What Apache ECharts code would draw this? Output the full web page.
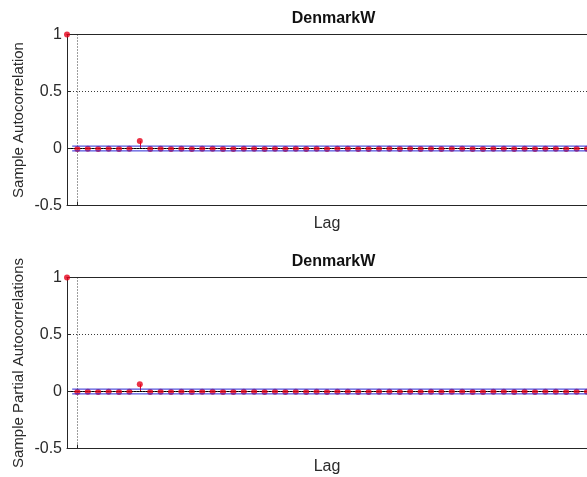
<!DOCTYPE html>
<html>
<head>
<meta charset="utf-8">
<title>DenmarkW</title>
<script src="https://cdn.jsdelivr.net/npm/echarts@6/dist/echarts.min.js"></script>
<style>
  html, body { margin: 0; padding: 0; background: #fff; }
  #chart { width: 587px; height: 477px; }
</style>
</head>
<body>
<div id="chart"></div>
<script>
// Lags shown on the horizontal axis
const lags = [0, 1, 2, 3, 4, 5, 6, 7, 8, 9, 10, 11, 12, 13, 14, 15, 16, 17, 18, 19, 20,
  21, 22, 23, 24, 25, 26, 27, 28, 29, 30, 31, 32, 33, 34, 35, 36, 37, 38, 39, 40,
  41, 42, 43, 44, 45, 46, 47, 48, 49, 50];

// Sample autocorrelation per lag
const acfValues = [1, -0.004, -0.003, -0.005, -0.002, -0.004, -0.003, 0.066, -0.004, -0.002,
  -0.005, -0.003, -0.004, -0.002, -0.003, -0.005, -0.004, -0.002, -0.003, -0.004,
  -0.003, -0.005, -0.002, -0.004, -0.003, -0.004, -0.002, -0.003, -0.005, -0.004,
  -0.003, -0.002, -0.004, -0.003, -0.005, -0.003, -0.004, -0.002, -0.003, -0.004,
  -0.005, -0.003, -0.002, -0.004, -0.003, -0.004, -0.002, -0.003, -0.004, -0.003, -0.002];

// Sample partial autocorrelation per lag
const pacfValues = [1, -0.004, -0.003, -0.005, -0.002, -0.004, -0.003, 0.064, -0.004, -0.003,
  -0.005, -0.003, -0.004, -0.002, -0.003, -0.004, -0.004, -0.002, -0.003, -0.004,
  -0.003, -0.005, -0.002, -0.004, -0.003, -0.004, -0.003, -0.003, -0.005, -0.004,
  -0.003, -0.002, -0.004, -0.003, -0.004, -0.003, -0.004, -0.002, -0.003, -0.004,
  -0.005, -0.003, -0.002, -0.004, -0.003, -0.004, -0.003, -0.003, -0.004, -0.003, -0.002];

// Approximate 95% confidence bounds, drawn from lag 0.5 to the last lag
const boundUpper = 0.021;
const boundLower = -0.021;
const boundLagStart = 0.5;
const boundLagEnd = 50;

// Axis ticks
const yTicks = [-0.5, 0, 0.5, 1];
const xGridLags = [1];

const titleText = 'DenmarkW';
const xName = 'Lag';
const yNames = ['Sample Autocorrelation', 'Sample Partial Autocorrelations'];

const FONT = 'Liberation Sans, Arial, sans-serif';
const RED = '#e6001a';
const BLUE = '#2a2ad6';
const AXIS = '#262626';
const DOTS = '#3a3a3a';
const TEXT = '#2a2a2a';

const chart = echarts.init(document.getElementById('chart'), null, { renderer: 'canvas' });

const gridTops = [34.5, 277.5];
const gridHeight = 171;

function pairs(values) {
  return lags.map((l, i) => [l, values[i]]);
}

// vertical stem from the zero baseline to the value, snapped to the pixel grid
function renderStem(params, api) {
  const top = api.coord([api.value(0), api.value(1)]);
  const base = api.coord([api.value(0), 0]);
  const x = Math.round(top[0]) + 0.5;
  return {
    type: 'line',
    shape: { x1: x, y1: base[1], x2: x, y2: top[1] },
    style: { stroke: RED, lineWidth: 1 }
  };
}

const grids = gridTops.map(t => ({ left: 67, right: -8, top: t, height: gridHeight, containLabel: false }));

const xAxes = [];
const yAxes = [];
const series = [];
const titles = [];

[acfValues, pacfValues].forEach((vals, g) => {
  titles.push({
    text: titleText,
    left: 328.5,
    top: gridTops[g] - 29,
    textAlign: 'center',
    textStyle: { fontFamily: FONT, fontSize: 16, fontWeight: 'bold', color: '#111' }
  });
  // bottom axis with the lag grid line
  xAxes.push({
    type: 'value', gridIndex: g, position: 'bottom', min: 0, max: lags[lags.length - 1],
    name: xName, nameLocation: 'middle', nameGap: 10,
    nameTextStyle: { fontFamily: FONT, fontSize: 16, color: TEXT, verticalAlign: 'top' },
    z: 8,
    axisLine: { show: true, onZero: false, lineStyle: { color: AXIS, width: 1 } },
    axisTick: { show: true, inside: true, length: 4, customValues: xGridLags, lineStyle: { color: AXIS } },
    axisLabel: { show: false, customValues: xGridLags },
    splitLine: { show: true, lineStyle: { color: DOTS, width: 1, type: [1, 2] } }
  });
  // top border
  xAxes.push({
    type: 'value', gridIndex: g, position: 'top', min: 0, max: lags[lags.length - 1],
    z: 8,
    axisLine: { show: true, onZero: false, lineStyle: { color: AXIS, width: 1 } },
    axisTick: { show: false }, axisLabel: { show: false }, splitLine: { show: false }
  });
  yAxes.push({
    type: 'value', gridIndex: g, min: yTicks[0], max: yTicks[yTicks.length - 1], interval: 0.5,
    name: yNames[g], nameLocation: 'middle', nameGap: 41, nameMoveOverlap: false,
    nameTextStyle: { fontFamily: FONT, fontSize: 15, color: TEXT },
    z: 8,
    axisLine: { show: true, onZero: false, lineStyle: { color: AXIS, width: 1 } },
    axisTick: { show: true, inside: true, length: 4, lineStyle: { color: AXIS } },
    axisLabel: { fontFamily: FONT, fontSize: 16, color: TEXT, margin: 5 },
    splitLine: { show: true, lineStyle: { color: DOTS, width: 1, type: [1, 2] } }
  });

  const xi = g * 2;
  // stems
  series.push({
    type: 'custom', xAxisIndex: xi, yAxisIndex: g, data: pairs(vals),
    renderItem: renderStem, z: 1, silent: true,
    encode: { x: 0, y: 1 },
    markLine: {
      silent: true, symbol: 'none', label: { show: false },
      lineStyle: { color: '#000', type: 'solid', width: 1 },
      data: [{ yAxis: 0 }]
    }
  });
  // markers
  series.push({
    type: 'scatter', xAxisIndex: xi, yAxisIndex: g, data: pairs(vals),
    symbol: 'circle', symbolSize: 6, itemStyle: { color: RED }, z: 10, silent: true
  });
  // confidence bounds
  [boundUpper, boundLower].forEach(b => {
    series.push({
      type: 'line', xAxisIndex: xi, yAxisIndex: g,
      data: [[boundLagStart, b], [boundLagEnd, b]],
      showSymbol: false, symbol: 'none', silent: true,
      lineStyle: { color: BLUE, width: 1 }, z: 11
    });
  });
});

chart.setOption({
  backgroundColor: '#fff',
  animation: false,
  title: titles,
  grid: grids,
  xAxis: xAxes,
  yAxis: yAxes,
  series: series
});
</script>
</body>
</html>
